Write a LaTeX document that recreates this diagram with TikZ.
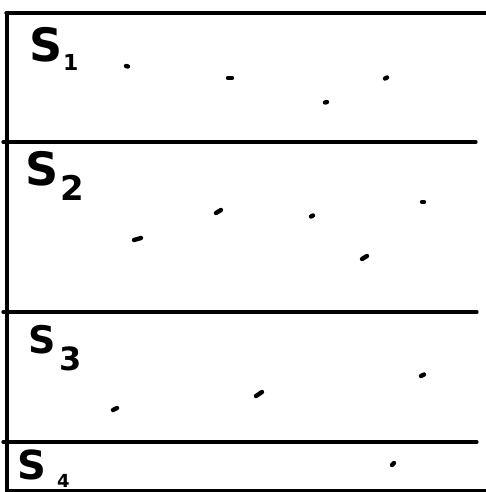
\documentclass[tikz,border=0pt]{standalone}
\usepackage{fontspec}
\setmainfont{DejaVu Sans}
\begin{document}
\begin{tikzpicture}[x=1pt,y=-1pt,
  frame/.style={line width=3.2pt, line cap=round},
  dotmk/.style={line width=4.4pt, line cap=round},
  lbl/.style={inner sep=0pt, anchor=base west}]
\useasboundingbox (0,0) rectangle (485,492);
\fill[white] (0,0) rectangle (485,492);
% frame
\draw[frame] (6,13) -- (486,13);
\draw[frame] (7,13) -- (7,493);
\draw[frame] (3,142) -- (476,142);
\draw[frame] (3,312) -- (477,312);
\draw[frame] (3,442) -- (477,442);
\draw[frame] (7,490.5) -- (486,490.5);
% labels
\node[lbl, font=\fontsize{46}{46}\selectfont\bfseries] (s1) at (29,62) {S};
\node[lbl, font=\fontsize{22}{22}\selectfont\bfseries] (s1i) at (63,71) {1};
\node[lbl, font=\fontsize{46}{46}\selectfont\bfseries] (s2) at (25,185) {S};
\node[lbl, font=\fontsize{34}{34}\selectfont\bfseries] (s2i) at (60,200) {2};
\node[lbl, font=\fontsize{38}{38}\selectfont\bfseries] (s3) at (28,353) {S};
\node[lbl, font=\fontsize{32}{32}\selectfont\bfseries] (s3i) at (59,370) {3};
\node[lbl, font=\fontsize{40}{40}\selectfont\bfseries] (s4) at (17,479) {S};
\node[lbl, font=\fontsize{18}{18}\selectfont\bfseries] (s4i) at (57,487) {4};
% sample marks, stratum 1
\draw[dotmk] (126,66) -- (128,66.5);
\draw[dotmk] (228,78) -- (232,78);
\draw[dotmk] (325,102.5) -- (327,102);
\draw[dotmk] (385,78.5) -- (387,77.5);
% stratum 2
\draw[dotmk] (134,240) -- (141,238);
\draw[dotmk] (216,213) -- (221,210);
\draw[dotmk] (311,216.5) -- (313,215.5);
\draw[dotmk] (422,202) -- (424,202);
\draw[dotmk] (362,259) -- (367,256);
% stratum 3
\draw[dotmk] (113,410) -- (117,408);
\draw[dotmk] (256,396) -- (262,392);
\draw[dotmk] (421,376) -- (424,374.5);
% stratum 4
\draw[dotmk] (392,465) -- (394,463);
\end{tikzpicture}
\end{document}
